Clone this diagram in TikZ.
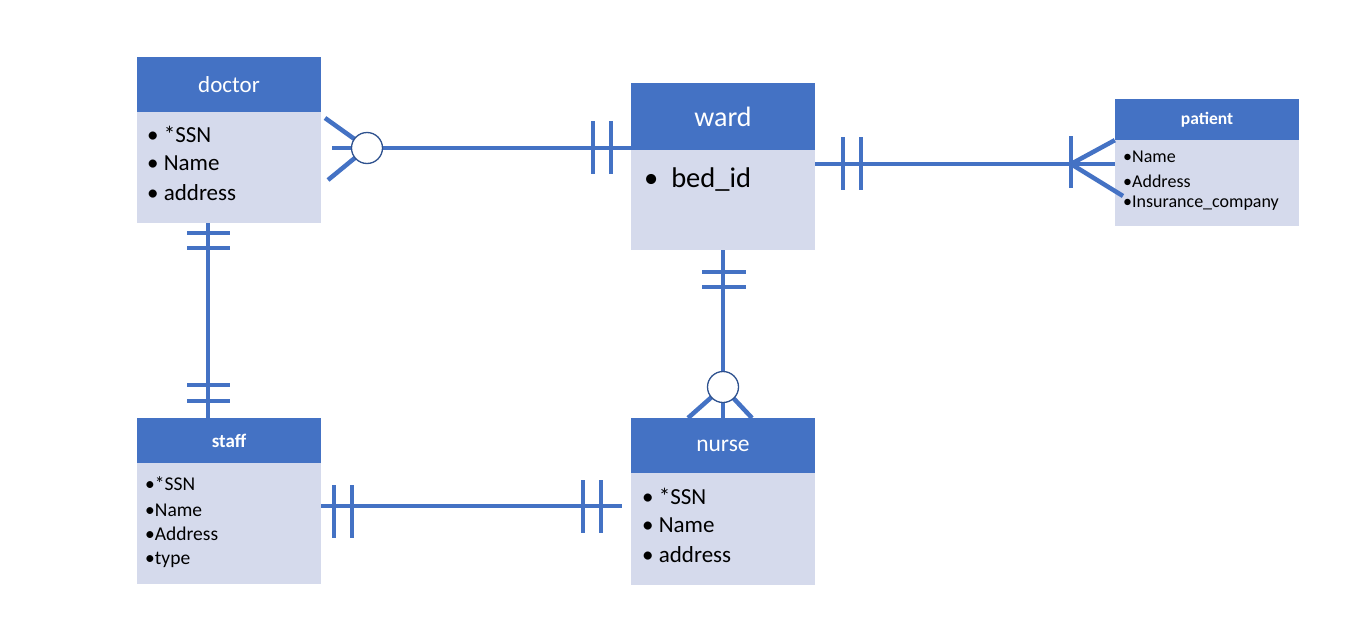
\documentclass[tikz,border=0pt]{standalone}
\usepackage{fontspec}
\setmainfont{Carlito}
\usetikzlibrary{calc}
\definecolor{hdrblue}{HTML}{4472C4}
\definecolor{bodyfill}{HTML}{D5DAEC}
\definecolor{circline}{HTML}{2F528F}
\tikzset{
  hdr/.style={fill=hdrblue, draw=none, text=white, inner sep=0pt, minimum width=184pt},
  bdy/.style={fill=bodyfill, draw=none, inner sep=0pt, minimum width=184pt},
  rel/.style={draw=hdrblue, line width=4.5pt},
  ocirc/.style={circle, draw=circline, fill=white, line width=1.3pt, minimum size=31pt, inner sep=0pt},
  item/.style={anchor=west, inner sep=0pt, text=black}
}
\begin{document}
\begin{tikzpicture}[x=1pt,y=-1pt]
\useasboundingbox (0,0) rectangle (1366,632);

% ---- entity boxes ----
\node[bdy, minimum height=111pt] (docB) at (229,167.5) {};
\node[hdr, minimum height=55pt, font=\fontsize{23}{27}\selectfont] (docH) at (229,84.5) {doctor};
\node[item, font=\fontsize{23}{27}\selectfont] (docI1) at (147,134) {\textbullet\ *SSN};
\node[item, font=\fontsize{23}{27}\selectfont] (docI2) at (147,163) {\textbullet\ Name};
\node[item, font=\fontsize{23}{27}\selectfont] (docI3) at (147,193) {\textbullet\ address};

\node[bdy, minimum height=100pt] (wardB) at (723,200) {};
\node[hdr, minimum height=67pt, font=\fontsize{28}{32}\selectfont] (wardH) at (723,116.5) {ward};
\node[item, font=\fontsize{28.5}{32}\selectfont] (wardI1) at (644,180) {\textbullet\ \ bed\_id};

\node[bdy, minimum height=86pt] (patB) at (1207,183) {};
\node[hdr, minimum height=41pt, font=\bfseries\fontsize{17.5}{20}\selectfont] (patH) at (1207,119.5) {patient};
\node[item, font=\fontsize{18}{21}\selectfont] (patI1) at (1123,157) {\textbullet Name};
\node[item, font=\fontsize{18}{21}\selectfont] (patI2) at (1123,181) {\textbullet Address};
\node[item, font=\fontsize{18}{21}\selectfont] (patI3) at (1123,203.5) {\textbullet Insurance\_company};

\node[bdy, minimum height=121pt] (stfB) at (229,523.5) {};
\node[hdr, minimum height=45pt, font=\bfseries\fontsize{19}{22}\selectfont] (stfH) at (229,440.5) {staff};
\node[item, font=\fontsize{19.5}{23}\selectfont] (stfI1) at (145,484) {\textbullet *SSN};
\node[item, font=\fontsize{19.5}{23}\selectfont] (stfI2) at (145,510) {\textbullet Name};
\node[item, font=\fontsize{19.5}{23}\selectfont] (stfI3) at (145,534) {\textbullet Address};
\node[item, font=\fontsize{19.5}{23}\selectfont] (stfI4) at (145,560) {\textbullet type};

\node[bdy, minimum height=112pt] (nurB) at (723,529) {};
\node[hdr, minimum height=55pt, font=\fontsize{23.5}{27}\selectfont] (nurH) at (723,445.5) {nurse};
\node[item, font=\fontsize{23}{27}\selectfont] (nurI1) at (642,496) {\textbullet\ *SSN};
\node[item, font=\fontsize{23}{27}\selectfont] (nurI2) at (642,525) {\textbullet\ Name};
\node[item, font=\fontsize{23}{27}\selectfont] (nurI3) at (642,555) {\textbullet\ address};

% ---- doctor (many, optional) -- ward (one and only one) ----
\coordinate (dcC) at (367,148);
\coordinate (dcT) at (325,118);
\coordinate (dcM) at (332,148);
\coordinate (dcL) at (328,180);
\draw[rel] (dcT) -- (dcC);
\draw[rel] (dcM) -- (dcC);
\draw[rel] (dcL) -- (dcC);
\draw[rel] (dcC) -- (wardH.south west |- dcC);
\draw[rel] (593,121) -- (593,174);
\draw[rel] (611,121) -- (611,174);
\node[ocirc] (dcCirc) at (dcC) {};

% ---- ward (one and only one) -- patient (one or many) ----
\coordinate (wpA) at (815,164);
\draw[rel] (wpA) -- (patB.west |- wpA);
\draw[rel] (843,137) -- (843,190);
\draw[rel] (861,137) -- (861,190);
\draw[rel] (1071,136) -- (1071,188);
\coordinate (wpF) at (1071,164);
\draw[rel] (wpF) -- (patH.south west);
\draw[rel] (wpF) -- (1123,196);

% ---- ward (one and only one) -- nurse (many, optional) ----
\coordinate (wnC) at (723,387);
\draw[rel] (wardB.south) -- (wnC);
\draw[rel] (702,272) -- (746,272);
\draw[rel] (702,287) -- (746,287);
\draw[rel] (wnC) -- (688,418);
\draw[rel] (wnC) -- (nurH.north);
\draw[rel] (wnC) -- (752,418);
\node[ocirc] (wnCirc) at (wnC) {};

% ---- doctor -- staff (one and only one both sides) ----
\draw[rel] (docB.south -| 208,0) -- (stfH.north -| 208,0);
\draw[rel] (187,233) -- (230,233);
\draw[rel] (187,248) -- (230,248);
\draw[rel] (187,385) -- (230,385);
\draw[rel] (187,401) -- (230,401);

% ---- staff -- nurse (one and only one both sides) ----
\coordinate (snE) at (622,506);
\draw[rel] (stfB.east |- snE) -- (snE);
\draw[rel] (334,485) -- (334,538);
\draw[rel] (352,485) -- (352,538);
\draw[rel] (583,480) -- (583,533);
\draw[rel] (601,480) -- (601,533);
\end{tikzpicture}
\end{document}
